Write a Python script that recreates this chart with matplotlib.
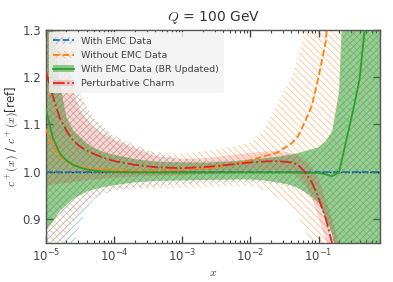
import numpy as np
import matplotlib
matplotlib.use('Agg')
import matplotlib.pyplot as plt
import matplotlib.patches as mpatches
from matplotlib.lines import Line2D

plt.rcParams['mathtext.fontset'] = 'cm'
plt.rcParams['font.family'] = ['DejaVu Sans']
plt.rcParams['hatch.linewidth'] = 0.6
plt.rcParams['text.color'] = '#333333'
plt.rcParams['axes.labelcolor'] = '#333333'

# x grid
x = [1e-5, 1.26e-5, 1.58e-5, 2e-5, 2.5e-5, 3.2e-5, 4e-5, 5e-5, 7e-5, 1e-4,
     2e-4, 4e-4, 1e-3, 2.5e-3, 6.3e-3, 1e-2, 1.6e-2, 2.5e-2, 4e-2, 5e-2,
     6.3e-2, 8e-2, 0.1, 0.126, 0.158, 0.2, 0.25, 0.32, 0.4, 0.5, 0.63, 0.8]

# With EMC Data (reference)
emc_c = [1.0] * len(x)
emc_up = [1.6, 1.45, 1.3, 1.23, 1.18, 1.16, 1.135, 1.115, 1.095, 1.075,
          1.055, 1.04, 1.028, 1.024, 1.024, 1.025, 1.027, 1.03, 1.034, 1.037,
          1.042, 1.047, 1.052, 1.062, 1.082, 1.14, 1.4, 1.8, 2.0, 2.0, 2.0, 2.0]
emc_lo = [0.5, 0.6, 0.7, 0.78, 0.845, 0.893, 0.925, 0.942, 0.953, 0.962,
          0.967, 0.97, 0.974, 0.977, 0.978, 0.978, 0.977, 0.974, 0.968, 0.963,
          0.955, 0.944, 0.932, 0.903, 0.868, 0.8, 0.5, 0.2, 0.0, 0.0, 0.0, 0.0]

# Without EMC Data
noemc_c = [1.09, 1.055, 1.035, 1.022, 1.015, 1.011, 1.008, 1.006, 1.005, 1.004,
           1.003, 1.003, 1.004, 1.008, 1.017, 1.025, 1.033, 1.041, 1.06, 1.075,
           1.105, 1.14, 1.2, 1.27, 1.4, 1.5, 1.6, 1.7, 1.8, 1.9, 2.0, 2.0]
noemc_up = [1.7, 1.55, 1.4, 1.3, 1.2, 1.165, 1.135, 1.115, 1.095, 1.078,
            1.058, 1.042, 1.038, 1.045, 1.055, 1.062, 1.09, 1.145, 1.2, 1.24,
            1.305, 1.4, 1.55, 1.8, 2.0, 2.0, 2.0, 2.0, 2.0, 2.0, 2.0, 2.0]
noemc_lo = [0.5, 0.62, 0.83, 0.865, 0.895, 0.918, 0.935, 0.946, 0.955, 0.96,
            0.964, 0.965, 0.966, 0.968, 0.97, 0.97, 0.962, 0.946, 0.925, 0.906,
            0.876, 0.846, 0.8, 0.7, 0.5, 0.3, 0.0, 0.0, 0.0, 0.0, 0.0, 0.0]

# With EMC Data (BR Updated)
br_c = [1.132, 1.072, 1.04, 1.024, 1.015, 1.009, 1.005, 1.003, 1.001, 1.0,
        0.999, 0.999, 0.999, 0.999, 0.999, 0.999, 0.999, 0.999, 0.999, 0.999,
        0.998, 0.998, 0.998, 0.995, 0.991, 0.999, 1.06, 1.128, 1.195, 1.33, 1.5, 1.7]
br_up = [1.5, 1.31, 1.19, 1.115, 1.088, 1.073, 1.06, 1.051, 1.042, 1.036,
         1.027, 1.022, 1.02, 1.02, 1.023, 1.026, 1.029, 1.032, 1.037, 1.04,
         1.044, 1.048, 1.052, 1.065, 1.085, 1.17, 1.5, 1.8, 2.0, 2.0, 2.0, 2.0]
br_lo = [0.876, 0.895, 0.917, 0.93, 0.943, 0.951, 0.959, 0.963, 0.968, 0.972,
         0.978, 0.981, 0.982, 0.983, 0.984, 0.984, 0.982, 0.978, 0.972, 0.966,
         0.958, 0.947, 0.935, 0.905, 0.87, 0.8, 0.5, 0.2, 0.0, 0.0, 0.0, 0.0]

# Perturbative Charm
pc_c = [1.21, 1.16, 1.115, 1.087, 1.066, 1.053, 1.045, 1.038, 1.03, 1.023,
        1.015, 1.01, 1.008, 1.011, 1.017, 1.02, 1.022, 1.023, 1.02, 1.015,
        1.0, 0.978, 0.945, 0.905, 0.85, 0.78, 0.7, 0.6, 0.5, 0.4, 0.3, 0.2]
pc_up = [1.55, 1.45, 1.36, 1.26, 1.17, 1.13, 1.11, 1.095, 1.08, 1.068,
         1.05, 1.034, 1.027, 1.03, 1.037, 1.04, 1.043, 1.045, 1.04, 1.035,
         1.025, 1.01, 0.985, 0.945, 0.9, 0.85, 0.75, 0.65, 0.55, 0.45, 0.35, 0.25]
pc_lo = [0.97, 0.973, 0.975, 0.977, 0.979, 0.98, 0.982, 0.984, 0.986, 0.988,
         0.99, 0.992, 0.993, 0.996, 0.999, 1.002, 1.003, 1.003, 0.998, 0.99,
         0.975, 0.945, 0.905, 0.86, 0.8, 0.75, 0.65, 0.55, 0.45, 0.35, 0.25, 0.15]

blue, orange, green, red = '#1f77b4', '#ff7f0e', '#2ca02c', '#d62728'
blue_h = matplotlib.colors.to_rgba(blue, 0.45)
orange_h = matplotlib.colors.to_rgba(orange, 0.45)

fig = plt.figure(figsize=(3.93, 2.82), dpi=100)
ax = fig.add_axes([0.117, 0.138, 0.850, 0.757])

ax.fill_between(x, emc_lo, emc_up, facecolor='none', edgecolor=blue_h,
                hatch='/////', linewidth=0, zorder=1)
ax.fill_between(x, noemc_lo, noemc_up, facecolor='none', edgecolor=orange_h,
                hatch='\\\\\\\\\\', linewidth=0, zorder=1)
ax.fill_between(x, br_lo, br_up, color=green, alpha=0.5, linewidth=0, zorder=2)
ax.fill_between(x, pc_lo, pc_up, color=red, alpha=0.18, linewidth=0, zorder=2)

ax.axhline(1.0, color='k', ls=':', lw=1.0, zorder=3)
ax.plot(x, emc_c, color=blue, ls='--', lw=1.3, zorder=4)
ax.plot(x, noemc_c, color=orange, ls='--', lw=1.3, zorder=4)
ax.plot(x, br_c, color=green, ls='-', lw=1.3, zorder=4)
ax.plot(x, pc_c, color=red, ls='-.', lw=1.3, zorder=4)

ax.set_xscale('log')
ax.set_xlim(1e-5, 0.8)
ax.set_ylim(0.85, 1.3)
ax.set_yticks([0.9, 1.0, 1.1, 1.2, 1.3])
ax.tick_params(which='both', direction='in', top=True, right=True,
               labelsize=8.5, colors='#444444')
ax.tick_params(which='major', length=5, width=1.0)
ax.tick_params(which='minor', length=2.5, width=0.8)
ax.tick_params(axis='y', which='minor', left=False, right=False)
for s in ax.spines.values():
    s.set_color('#555555')
    s.set_linewidth(1.0)

ax.set_xlabel(r'$x$', fontsize=8.5, labelpad=1)
ax.set_ylabel(r'$c^+(x)$ / $c^+(x)$[ref]', fontsize=8.5, labelpad=2)
ax.set_title(r'$Q$ = 100 GeV', fontsize=10, pad=6)

handles = [
    (mpatches.Patch(facecolor='none', edgecolor=blue_h, hatch='/////', linewidth=0),
     Line2D([], [], color=blue, ls='--', lw=1.3)),
    (mpatches.Patch(facecolor='none', edgecolor=orange_h, hatch='\\\\\\\\\\', linewidth=0),
     Line2D([], [], color=orange, ls='--', lw=1.3)),
    (mpatches.Patch(color=green, alpha=0.5, linewidth=0),
     Line2D([], [], color=green, ls='-', lw=1.3)),
    (mpatches.Patch(color=red, alpha=0.18, linewidth=0),
     Line2D([], [], color=red, ls='-.', lw=1.3)),
]
labels = ['With EMC Data', 'Without EMC Data', 'With EMC Data (BR Updated)',
          'Perturbative Charm']
leg = ax.legend(handles, labels, loc='upper left', fontsize=6.8, frameon=True,
                framealpha=0.85, borderaxespad=0.3, handlelength=2.2,
                labelspacing=0.55, handletextpad=0.8, borderpad=0.45)
leg.get_frame().set_facecolor('#f2f2f2')
leg.get_frame().set_edgecolor('none')
for t in leg.get_texts():
    t.set_color('#444444')

fig.savefig('out.png', dpi=100)
